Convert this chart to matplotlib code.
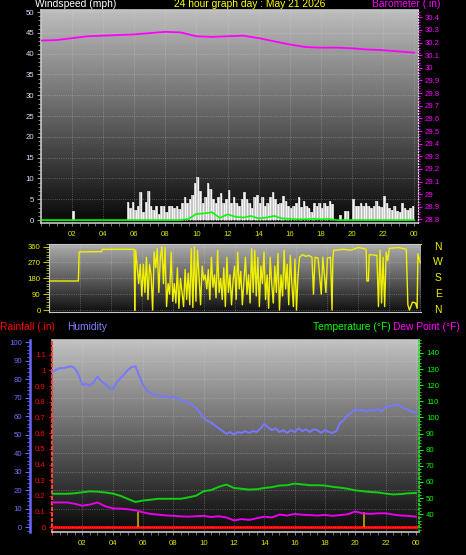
import numpy as np
import matplotlib
matplotlib.use("Agg")
import matplotlib.pyplot as plt
import matplotlib.transforms as mtrans
from matplotlib.ticker import MultipleLocator, FixedLocator, FuncFormatter

plt.rcParams['font.family'] = ['Liberation Sans', 'DejaVu Sans']

title = "24 hour graph day : May 21 2026"
hour_ticks = [2, 4, 6, 8, 10, 12, 14, 16, 18, 20, 22, 24]
hour_labels = ["02", "04", "06", "08", "10", "12", "14", "16", "18", "20", "22", "00"]

# barometer, hourly
baro_hours = list(range(25))
baro = [30.216, 30.22, 30.235, 30.25, 30.255, 30.26, 30.265, 30.275, 30.285, 30.28,
        30.25, 30.245, 30.25, 30.255, 30.235, 30.21, 30.185, 30.165, 30.16, 30.16,
        30.155, 30.145, 30.14, 30.13, 30.12]

# wind gust, every 10 minutes
gust = [0, 0, 0, 0, 0, 0,
        0, 0, 0, 0, 0, 0,
        2.3, 0, 0, 0, 0, 0,
        0, 0, 0, 0, 0, 0,
        0, 0, 0, 0, 0, 0,
        0, 0, 0, 4.4, 3.0, 4.4,
        2.5, 3.5, 6.8, 2.0, 4.4, 6.9,
        3.3, 2.4, 3.4, 1.5, 3.3, 3.4,
        2.0, 3.3, 3.3, 2.8, 3.3, 2.6,
        4.2, 5.5, 4.2, 5.0, 6.0, 8.9,
        10.4, 7.0, 4.0, 5.5, 8.9, 7.5,
        5.0, 4.0, 5.5, 6.5, 4.0, 5.0,
        7.2, 4.0, 5.5, 4.0, 3.5, 5.0,
        6.8, 5.0, 4.0, 3.0, 5.5, 6.0,
        4.0, 5.5, 3.5, 4.0, 5.5, 6.8,
        5.0, 3.8, 4.0, 5.7, 4.5, 3.5,
        3.0, 3.3, 4.0, 5.5, 3.2, 4.5,
        3.5, 3.0, 2.0, 4.2, 3.5, 4.0,
        3.0, 4.0, 3.3, 4.5, 3.8, 0,
        0, 1.3, 0, 2.3, 2.3, 0,
        5.0, 3.5, 3.3, 4.0, 3.3, 4.0,
        3.5, 3.0, 3.5, 4.5, 3.5, 3.2,
        5.7, 4.0, 3.0, 2.5, 3.5, 2.2,
        2.0, 4.0, 3.0, 2.5, 3.0, 3.5]
gust_hours = np.arange(len(gust)) / 6

# average wind, every 30 minutes
avg_wind = [0, 0, 0, 0, 0, 0, 0, 0, 0, 0, 0, 0, 0, 0, 0, 0, 0, 0,
            0, 0.3, 1.5, 1.6, 1.9, 0.5, 1.4, 0.8, 0.6, 1.0,
            0.4, 0.6, 1.0, 0.4, 0.3, 0.2, 0.2, 0.3, 0.2, 0.3,
            0, 0, 0, 0, 0, 0, 0, 0, 0, 0, 0]
half_hours = np.arange(len(avg_wind)) / 2

# wind direction
dir_start_hours = [0, 1.9, 1.95, 3.4, 3.45, 5.5, 5.55]
dir_start = [165, 165, 330, 332, 345, 345, 0]
dir_mid = [340, 250, 150, 260,
           80, 260, 100, 300, 60, 260, 200, 0, 330, 240,
           350, 100, 300, 360, 150, 355, 20, 150, 90, 330,
           50, 150, 40, 240, 10, 180, 100, 20, 230, 60,
           210, 30, 350, 15, 360, 50, 340, 190, 30, 250,
           170, 200, 120, 230, 60, 300, 130, 200, 70, 340,
           100, 180, 60, 240, 20, 300, 100, 200, 30, 170,
           250, 60, 330, 120, 220, 30, 160, 300, 90, 200,
           40, 350, 100, 340, 80, 300, 20, 250, 150, 330,
           60, 200, 10, 300, 150, 40, 250, 100, 320, 0,
           200, 80, 340, 120, 260, 30, 310, 150, 20, 290,
           0, 200]
dir_mid_hours = 5.6 + np.arange(len(dir_mid)) / 10
dir_end_hours = [16.2, 16.4, 16.6, 16.8, 17.0, 17.1, 17.2, 17.4, 17.6, 17.7, 17.9, 18.0,
                 18.2, 18.3, 18.35, 18.4, 18.5, 19.0, 19.5, 20.0, 20.3, 20.5, 20.55, 20.65,
                 20.7, 21.2, 21.3, 21.4, 21.5, 21.6, 21.7, 21.8, 21.9, 22.0, 22.6, 23.1,
                 23.2, 23.3, 23.5, 23.7, 23.8, 23.85, 24.0]
dir_end = [300, 315, 305, 310, 300, 90, 300, 295, 90, 300, 100, 295,
           300, 0, 290, 340, 340, 345, 340, 355, 350, 345, 165, 165,
           315, 310, 20, 340, 40, 300, 20, 330, 280, 350, 355, 345,
           30, 0, 45, 40, 10, 320, 270]
dir_labels = ["N", "W", "S", "E", "N"]
dir_label_pos = [360, 270, 180, 90, 0]

# humidity, every 15 minutes
humidity = [84, 85, 86, 86, 86.5, 87, 86, 82.5, 77, 77.5, 76.5, 78.5,
            81.5, 79, 77.5, 75.5, 74.5, 78, 80.5, 82.5, 85, 86.5, 87, 82,
            77, 74, 72.5, 71.5, 71, 70.5, 71, 70, 70.5, 69.5, 69, 68,
            67.5, 66, 64.5, 62, 59, 57.5, 56.5, 55, 53.5, 52, 50.5, 51.5,
            50, 51.5, 51, 52, 51, 52, 51.5, 53.5, 56, 54, 52.5, 53.5,
            51.5, 52.5, 51, 52.5, 51.5, 53.5, 52, 53, 51.5, 53, 52.5, 51,
            52.5, 51.5, 51, 52, 56.5, 58, 60.5, 62, 64, 63, 63.5, 62.5,
            63.5, 63, 64, 62.5, 65, 65.5, 66, 66.5, 65.5, 64, 63.5, 62.5, 62]
quarter_hours = np.arange(len(humidity)) / 4

# temperature and dew point, every 30 minutes
temperature = [52.7, 52.7, 52.7, 53.0, 53.6, 54.2, 54.0, 53.5, 52.8, 51.5,
               49.5, 47.6, 48.5, 49.0, 49.6, 49.6, 49.6, 49.6, 50.5, 51.5,
               54.3, 55.0, 57.0, 58.4, 56.3, 55.8, 55.3, 55.5, 56.3, 56.8,
               57.8, 58.0, 59.0, 58.5, 58.0, 58.0, 57.8, 57.0, 56.5, 55.8,
               54.8, 54.3, 53.8, 53.5, 52.8, 52.3, 52.5, 53.0, 53.2]
dew_point = [47.3, 47.3, 47.3, 46.5, 45.3, 46.0, 47.3, 45.0, 43.7, 43.5,
             43.1, 42.5, 41.2, 40.2, 39.8, 39.3, 39.0, 38.7, 38.5, 38.8,
             39.0, 38.3, 38.8, 38.0, 36.2, 37.0, 36.5, 37.5, 38.5, 38.0,
             39.8, 39.2, 40.2, 39.7, 39.5, 39.2, 39.6, 39.0, 39.5, 40.0,
             41.7, 40.5, 40.2, 40.6, 40.6, 39.8, 39.2, 39.0, 38.5]

rain_hours = [0, 24]
rain = [0, 0]
rain_marks = [5.7, 20.6]
rain_mark_top = 0.1

W, H = 466, 555


def rect(x0, y0, x1, y1):
    return [x0 / W, 1 - y1 / H, (x1 - x0) / W, (y1 - y0) / H]


def shade(ax, top, bottom):
    grad = np.linspace(top, bottom, 256).reshape(-1, 1)
    ax.imshow(grad, cmap='gray', vmin=0, vmax=1, aspect='auto', extent=[0, 1, 0, 1],
              transform=ax.transAxes, zorder=0, interpolation='bilinear')


def fmt(v, pos):
    return ('%.1f' % v).rstrip('0').rstrip('.')


fig = plt.figure(figsize=(W / 100, H / 100), dpi=100, facecolor='black')
grid_kw = dict(color='#e0e0e0', linestyle=':', linewidth=0.6, alpha=0.4)
tick_fs = 5.6

# ---------------- top panel: wind + barometer
ax1 = fig.add_axes(rect(41, 10, 418, 223))
shade(ax1, 0.74, 0.03)
ax1.bar(gust_hours, gust, width=1 / 6, align='edge', color='#bcbcbc', linewidth=0, zorder=2)
ax1.vlines(gust_hours + 1 / 12, 0, gust, color='#f4f4f4', lw=1.0, zorder=2)
ax1.plot(half_hours, avg_wind, color='#00ff00', lw=1.2, zorder=3)
ax1.set_xlim(0, 24.25)
ax1.set_ylim(-0.7, 50.5)
ax1.yaxis.set_major_locator(MultipleLocator(5))
ax1.yaxis.set_minor_locator(MultipleLocator(1))
ax1.xaxis.set_major_locator(FixedLocator(hour_ticks))
ax1.set_xticklabels(hour_labels)
ax1.xaxis.set_minor_locator(MultipleLocator(0.5))
ax1.tick_params(axis='y', which='both', colors='#a0a0a0', labelcolor='#d0e8ff',
                labelsize=tick_fs, length=3, pad=2)
ax1.tick_params(axis='y', which='minor', length=2)
ax1.tick_params(axis='x', which='both', colors='#808080', labelcolor='#e0e000',
                labelsize=tick_fs, length=2, pad=4)
ax1.grid(True, **grid_kw)
for s in ['left', 'bottom', 'top']:
    ax1.spines[s].set_color('#c8c8c8')
    ax1.spines[s].set_linewidth(1.2)
ax1.spines['right'].set_visible(False)

axb = ax1.twinx()
axb.plot(baro_hours, baro, color='#ff00ff', lw=1.3, zorder=3)
axb.set_ylim(28.772, 30.458)
axb.set_xlim(0, 24.25)
axb.yaxis.set_major_locator(MultipleLocator(0.1))
axb.yaxis.set_minor_locator(MultipleLocator(0.02))
axb.yaxis.set_major_formatter(FuncFormatter(fmt))
axb.tick_params(axis='y', which='both', colors='#ff00ff', labelcolor='#ff00ff',
                labelsize=tick_fs, length=3, pad=2)
axb.tick_params(axis='y', which='minor', length=1.5)
for s in ['left', 'bottom', 'top']:
    axb.spines[s].set_visible(False)
axb.spines['right'].set_color('#e0e0e0')
axb.spines['right'].set_linestyle(':')

# ---------------- middle panel: wind direction
ax2 = fig.add_axes(rect(49, 244, 421, 312))
shade(ax2, 0.68, 0.06)
ax2.plot(dir_start_hours, dir_start, color='#f0f000', lw=1.0, zorder=3)
ax2.plot(np.concatenate([[5.55], dir_mid_hours]), [0] + dir_mid, color='#f0f000', lw=1.0, zorder=3)
ax2.plot([dir_mid_hours[-1]] + dir_end_hours, [dir_mid[-1]] + dir_end, color='#f0f000', lw=1.0, zorder=3)
ax2.set_xlim(0, 24.05)
ax2.set_ylim(-11, 375)
ax2.yaxis.set_major_locator(FixedLocator([0, 90, 180, 270, 360]))
ax2.yaxis.set_minor_locator(MultipleLocator(15))
ax2.xaxis.set_major_locator(FixedLocator(hour_ticks))
ax2.set_xticklabels([])
ax2.tick_params(axis='y', which='both', colors='#c0c000', labelcolor='#f0f000',
                labelsize=tick_fs, length=4, pad=2)
ax2.tick_params(axis='y', which='minor', length=2)
ax2.tick_params(axis='x', length=0)
ax2.grid(True, **grid_kw)
for s in ['left', 'bottom', 'top']:
    ax2.spines[s].set_color('#c8c8c8')
ax2.spines['right'].set_visible(False)
tr = mtrans.blended_transform_factory(ax2.transAxes, ax2.transData)
for lab, pos in zip(dir_labels, dir_label_pos):
    ax2.text(1.046, pos, lab, transform=tr, ha='center', va='center',
             color='#f0f000', fontsize=7.5, clip_on=False)

# ---------------- bottom panel: rain, humidity, temperature, dew point
ax3 = fig.add_axes(rect(52, 340, 419, 532))
shade(ax3, 0.76, 0.03)
ax3.plot(rain_hours, rain, color='#ff0000', lw=2.2, zorder=4)
ax3.vlines(rain_marks, 0, rain_mark_top, color='#c8a800', lw=1.2, zorder=4)
ax3.set_xlim(0, 24.2)
ax3.set_ylim(-0.03, 1.194)
ax3.yaxis.set_major_locator(FixedLocator([0, 0.1, 0.2, 0.3, 0.4, 0.5, 0.6, 0.7, 0.8, 0.9, 1.0, 1.1]))
ax3.yaxis.set_minor_locator(MultipleLocator(0.05))
ax3.yaxis.set_major_formatter(FuncFormatter(fmt))
ax3.xaxis.set_major_locator(FixedLocator(hour_ticks))
ax3.set_xticklabels(hour_labels)
ax3.xaxis.set_minor_locator(MultipleLocator(0.5))
ax3.tick_params(axis='y', which='both', colors='#ff0000', labelcolor='#ff0000',
                labelsize=tick_fs, length=2.5, pad=2)
ax3.tick_params(axis='y', which='minor', length=1.5)
ax3.tick_params(axis='x', which='both', colors='#808080', labelcolor='#e0e000',
                labelsize=tick_fs, length=2, pad=4)
ax3.grid(True, axis='x', **grid_kw)
ax3.spines['left'].set_color('#ff4040')
ax3.spines['left'].set_linestyle(':')
ax3.spines['left'].set_linewidth(1.5)
for s in ['bottom', 'top']:
    ax3.spines[s].set_color('#c8c8c8')
    ax3.spines[s].set_linewidth(1.2)
ax3.spines['right'].set_visible(False)

axh = ax3.twinx()
axh.plot(quarter_hours, humidity, color='#7878ff', lw=1.4, zorder=3)
axh.set_ylim(-2.5, 101.2)
axh.set_xlim(0, 24.2)
axh.yaxis.set_label_position('left')
axh.yaxis.tick_left()
axh.spines['left'].set_position(('outward', 15.8))
axh.spines['left'].set_color('#6868ff')
axh.spines['left'].set_linewidth(1.8)
axh.yaxis.set_major_locator(MultipleLocator(10))
axh.yaxis.set_minor_locator(MultipleLocator(2))
axh.tick_params(axis='y', which='both', colors='#6868ff', labelcolor='#7070ff',
                labelsize=tick_fs, length=3.5, pad=2)
axh.tick_params(axis='y', which='minor', length=2)
axh.grid(True, axis='y', **grid_kw)
for s in ['right', 'bottom', 'top']:
    axh.spines[s].set_visible(False)

axt = ax3.twinx()
axt.plot(half_hours, temperature, color='#10d010', lw=1.4, zorder=3)
axt.plot(half_hours, dew_point, color='#e800e8', lw=1.4, zorder=3)
axt.set_ylim(29, 148)
axt.set_xlim(0, 24.2)
axt.yaxis.set_major_locator(FixedLocator(list(range(40, 141, 10))))
axt.yaxis.set_minor_locator(MultipleLocator(2))
axt.tick_params(axis='y', which='both', colors='#00ff00', labelcolor='#00ff00',
                labelsize=tick_fs, length=3, pad=2)
axt.tick_params(axis='y', which='minor', length=1.5)
for s in ['left', 'bottom', 'top']:
    axt.spines[s].set_visible(False)
axt.spines['right'].set_color('#20e020')
axt.spines['right'].set_linestyle(':')
axt.spines['right'].set_linewidth(1.2)

# ---------------- header texts
hs = 7.4
fig.text(35 / W, 1 + 1 / H, "Windspeed (mph)", color='white', fontsize=hs, ha='left', va='top')
fig.text(250 / W, 1 + 1 / H, title, color='#ffff00', fontsize=hs, ha='center', va='top')
fig.text(372 / W, 1 + 1 / H, "Barometer (.in)", color='#ff00ff', fontsize=hs, ha='left', va='top')
yb = 1 - 327 / H
fig.text(0, yb, "Rainfall (.in)", color='#ff0000', fontsize=hs, ha='left', va='center')
fig.text(67 / W, yb, "Humidity", color='#8080ff', fontsize=hs, ha='left', va='center')
fig.text(313 / W, yb, "Temperature (\u00b0F)", color='#00ff00', fontsize=hs, ha='left', va='center')
fig.text(393 / W, yb, "Dew Point (\u00b0F)", color='#ff00ff', fontsize=hs, ha='left', va='center')

fig.savefig("out.png", dpi=100, facecolor='black')
